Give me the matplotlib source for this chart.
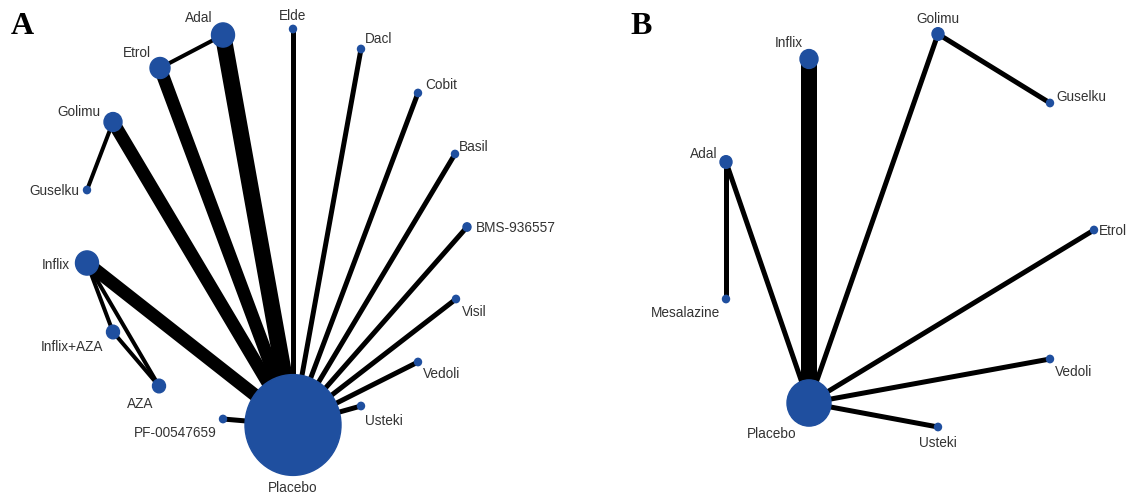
import matplotlib
matplotlib.use("Agg")
import matplotlib.pyplot as plt
from matplotlib.patches import Ellipse

# ---- panel A data ----
nodes_a = ["Placebo", "Adal", "Etrol", "Elde", "Dacl", "Cobit", "Basil", "BMS-936557",
           "Visil", "Vedoli", "Usteki", "PF-00547659", "AZA", "Inflix+AZA", "Inflix",
           "Guselku", "Golimu"]
# node radius (pixels) ~ sample size
size_a = [48, 11.5, 10, 3.5, 3.5, 3.5, 3.5, 4, 3.5, 3.5, 3.5, 3.5, 6.5, 6.5, 11.5, 3.5, 9]
# edges: (from, to) and width ~ number of trials
edges_a = [("Placebo", "Adal"), ("Placebo", "Etrol"), ("Placebo", "Golimu"), ("Placebo", "Inflix"),
           ("Placebo", "Elde"), ("Placebo", "Dacl"), ("Placebo", "Cobit"), ("Placebo", "Basil"),
           ("Placebo", "BMS-936557"), ("Placebo", "Visil"), ("Placebo", "Vedoli"),
           ("Placebo", "Usteki"), ("Placebo", "PF-00547659"), ("Etrol", "Adal"),
           ("Golimu", "Guselku"), ("Inflix", "Inflix+AZA"), ("Inflix", "AZA"), ("Inflix+AZA", "AZA")]
weight_a = [16.5, 13, 13, 13, 5, 5, 5, 5, 5, 5, 5, 5, 5, 4, 4, 4, 4, 4]

# ---- panel B data ----
nodes_b = ["Placebo", "Inflix", "Golimu", "Guselku", "Adal", "Mesalazine", "Etrol", "Vedoli", "Usteki"]
size_b = [22, 9, 6, 3.5, 6, 3.5, 3.5, 3.5, 3.5]
edges_b = [("Placebo", "Inflix"), ("Placebo", "Adal"), ("Placebo", "Golimu"), ("Placebo", "Etrol"),
           ("Placebo", "Vedoli"), ("Placebo", "Usteki"), ("Adal", "Mesalazine"), ("Golimu", "Guselku")]
weight_b = [16, 5, 5, 5, 5, 5, 5, 5]

# ---- layout (pixel positions of nodes and labels) ----
pos_a = {"Placebo": (293, 425), "Adal": (223, 35), "Etrol": (160, 68), "Elde": (293, 29),
         "Dacl": (361, 49), "Cobit": (418, 93), "Basil": (455, 154), "BMS-936557": (467, 227),
         "Visil": (456, 299), "Vedoli": (418, 362), "Usteki": (361, 406), "PF-00547659": (223, 419),
         "AZA": (159, 386), "Inflix+AZA": (113, 332), "Inflix": (87, 263), "Guselku": (87, 190),
         "Golimu": (113, 122)}
lab_a = {"Placebo": (293, 488), "Adal": (199, 18), "Etrol": (137, 53), "Elde": (293, 16),
         "Dacl": (379, 39), "Cobit": (441, 85), "Basil": (474, 147), "BMS-936557": (516, 228),
         "Visil": (474, 312), "Vedoli": (442, 374), "Usteki": (384, 421), "PF-00547659": (175, 433),
         "AZA": (140, 404), "Inflix+AZA": (72, 347), "Inflix": (56, 265), "Guselku": (54, 191),
         "Golimu": (79, 112)}
pos_b = {"Placebo": (809, 403), "Inflix": (809, 59), "Golimu": (938, 34), "Guselku": (1050, 103),
         "Adal": (726, 162), "Mesalazine": (726, 299), "Etrol": (1094, 230), "Vedoli": (1050, 359),
         "Usteki": (938, 427)}
lab_b = {"Placebo": (772, 434), "Inflix": (789, 43), "Golimu": (938, 19), "Guselku": (1081, 97),
         "Adal": (704, 154), "Mesalazine": (685, 313), "Etrol": (1113, 231), "Vedoli": (1074, 372),
         "Usteki": (938, 443)}

node_col = "#1f4f9f"
text_col = "#333333"
stretch = 1.05

fig = plt.figure(figsize=(11.33, 4.95), dpi=100)
ax = fig.add_axes([0, 0, 1, 1])
ax.set_xlim(0, 1133)
ax.set_ylim(495, 0)
ax.axis("off")


def draw_net(nodes, size, edges, weight, pos, lab):
    for (a, b), w in zip(edges, weight):
        ax.plot([pos[a][0], pos[b][0]], [pos[a][1], pos[b][1]], color="black",
                lw=w * 0.72, solid_capstyle="butt", zorder=1)
    for n, r in zip(nodes, size):
        ax.add_patch(Ellipse(pos[n], 2 * r, 2 * r * stretch, color=node_col, zorder=2))
        ax.text(lab[n][0], lab[n][1], n, ha="center", va="center", fontsize=9.8,
                family="Liberation Sans", color=text_col, zorder=3)


draw_net(nodes_a, size_a, edges_a, weight_a, pos_a, lab_a)
draw_net(nodes_b, size_b, edges_b, weight_b, pos_b, lab_b)

ax.text(22, 34, "A", fontsize=23, family="Liberation Serif", fontweight="bold",
        ha="center", va="baseline")
ax.text(641, 34, "B", fontsize=23, family="Liberation Serif", fontweight="bold",
        ha="center", va="baseline")

fig.savefig("out.png", dpi=100, facecolor="white")
